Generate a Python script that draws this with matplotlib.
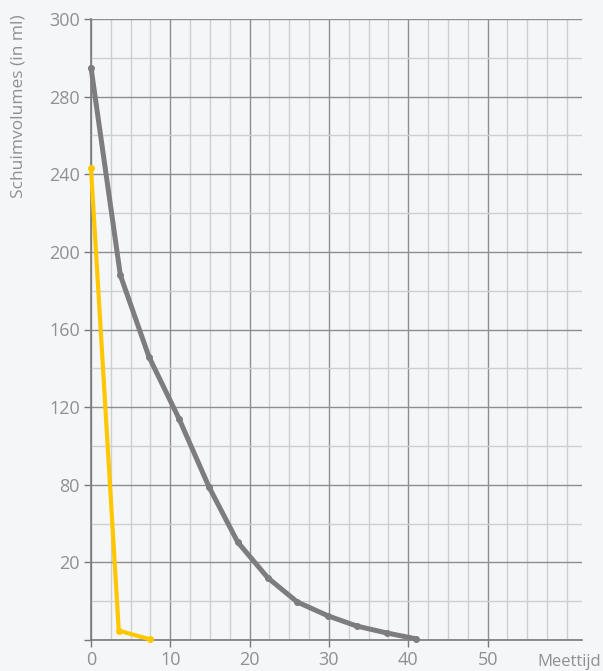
#!/usr/bin/env python3
"""Schuimvolume tegen meettijd"""
import matplotlib
matplotlib.use('Agg')
import matplotlib.pyplot as plt
import numpy as np

plt.rcParams['font.family'] = ['Open Sans', 'DejaVu Sans']

# y-as labels staan op gelijke afstand, maar de waarden niet
y_labels = [0, 20, 80, 120, 160, 200, 240, 280, 300]
y_pos = np.arange(len(y_labels))

# grijze reeks
grijs_t = [0, 3.7, 7.3, 11.1, 14.9, 18.5, 22.3, 26.0, 29.9, 33.5, 37.3, 41.0]
grijs_v = [287.5, 188, 146, 114, 78, 35.6, 16, 9.8, 6.2, 3.6, 1.8, 0.3]

# gele reeks
geel_t = [0, 3.5, 7.4]
geel_v = [243, 2.4, 0.2]

x_major = [0, 10, 20, 30, 40, 50]


def fwd(v):
    return np.interp(v, y_labels, y_pos)


def inv(p):
    return np.interp(p, y_pos, y_labels)


bg = '#f4f6f7'
txt = '#909090'

fig = plt.figure(figsize=(6.03, 6.71), dpi=100, facecolor=bg)
ax = fig.add_axes([91 / 603, 31 / 671, 491 / 603, 621 / 671])
ax.set_facecolor(bg)
ax.set_yscale('function', functions=(fwd, inv))

ax.set_xlim(0, 61.9)
ax.set_ylim(0, 300)

ax.set_xticks(x_major)
ax.set_xticks(np.arange(2.5, 61, 2.5), minor=True)
ax.set_yticks(y_labels, [''] + [str(v) for v in y_labels[1:]])
ax.set_yticks(inv(y_pos[:-1] + 0.5), minor=True)

ax.grid(True, which='major', color='#8e8e8e', linewidth=1.0)
ax.grid(True, which='minor', color='#cdcfd0', linewidth=1.0)
ax.set_axisbelow(True)

for s in ['top', 'right']:
    ax.spines[s].set_visible(False)
for s in ['left', 'bottom']:
    ax.spines[s].set_color('#7a7a7a')
    ax.spines[s].set_linewidth(1.2)

ax.tick_params(which='major', length=5, width=1, color='#7a7a7a',
               labelcolor=txt, labelsize=13, pad=3)
ax.tick_params(which='minor', length=0)

ax.plot(grijs_t, grijs_v, color='#7d7d7f', linewidth=3.6, marker='o',
        markersize=4, solid_capstyle='round', clip_on=False, zorder=3)
ax.plot(geel_t, geel_v, color='#ffc700', linewidth=3.0, marker='o',
        markersize=4, solid_capstyle='round', clip_on=False, zorder=3)

fig.text(19 / 603, 1 - 14 / 671, 'Schuimvolumes (in ml)', rotation=90,
         ha='center', va='top', fontsize=12.5, color=txt)
fig.text(601 / 603, 1 - 662 / 671, 'Meettijd', ha='right', va='center',
         fontsize=12, color=txt)

fig.savefig('out.png', dpi=100, facecolor=bg)
plt.close(fig)
